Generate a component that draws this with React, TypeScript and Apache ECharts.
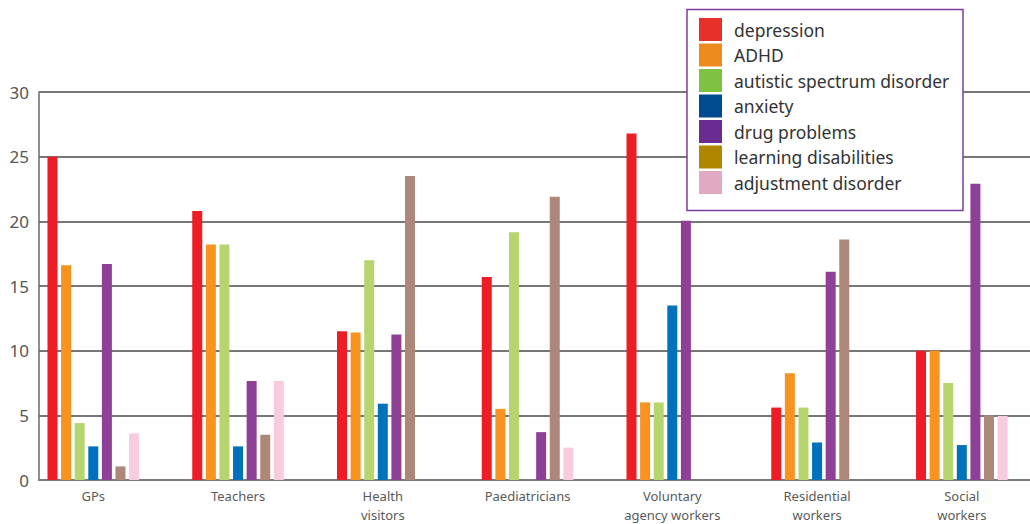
import React, { useEffect, useRef } from "react";
import * as echarts from "echarts";

const categories = [
  "GPs",
  "Teachers",
  "Health\nvisitors",
  "Paediatricians",
  "Voluntary\nagency workers",
  "Residential\nworkers",
  "Social\nworkers",
];
const seriesNames = [
  "depression",
  "ADHD",
  "autistic spectrum disorder",
  "anxiety",
  "drug problems",
  "learning disabilities",
  "adjustment disorder",
];
const depression = [25.0, 20.8, 11.5, 15.7, 26.8, 5.6, 10.0];
const adhd = [16.6, 18.2, 11.4, 5.5, 6.0, 8.25, 10.0];
const autisticSpectrum = [4.4, 18.2, 17.0, 19.15, 6.0, 5.6, 7.5];
const anxiety = [2.6, 2.6, 5.9, null, 13.5, 2.9, 2.7];
const drugProblems = [16.7, 7.65, 11.25, 3.7, 20.05, 16.1, 22.9];
const learningDisabilities = [1.05, 3.5, 23.5, 21.9, null, 18.6, 5.0];
const adjustmentDisorder = [3.6, 7.65, null, 2.5, null, null, 4.95];
const seriesValues = [
  depression,
  adhd,
  autisticSpectrum,
  anxiety,
  drugProblems,
  learningDisabilities,
  adjustmentDisorder,
];
const yMin = 0;
const yMax = 30;
const yStep = 5;

const barColors = ["#ee1c25", "#f7931e", "#b7d56f", "#0072bc", "#8e3f96", "#ab8877", "#f8cbdf"];
const legendColors = ["#e8302a", "#ee8b1f", "#7dc242", "#004a8f", "#6a2c91", "#b08500", "#e2aac2"];

const FONT = "'Noto Sans', sans-serif";

export default function App() {
  const ref = useRef<HTMLDivElement>(null);
  useEffect(() => {
    if (!ref.current) return;
    const chart = echarts.init(ref.current, null, { renderer: "svg" });
    chart.setOption({
      animation: false,
      backgroundColor: "#ffffff",
      textStyle: { fontFamily: FONT },
      grid: { left: 39, right: 0, top: 92, bottom: 41, containLabel: false },
      xAxis: {
        type: "value",
        min: -0.375,
        max: 6.471,
        interval: 0.125,
        splitLine: { show: false },
        axisTick: { show: false },
        axisLine: { show: true, onZero: false, lineStyle: { color: "#7a7a7a", width: 2 } },
        axisLabel: {
          show: true,
          showMinLabel: false,
          showMaxLabel: false,
          margin: 6,
          color: "#5a5a5a",
          fontSize: 13,
          lineHeight: 19,
          fontFamily: FONT,
          formatter: (v: number) => {
            const r = Math.round(v);
            if (Math.abs(v - r) > 1e-6 || r < 0 || r >= categories.length) return "";
            return categories[r];
          },
        },
      },
      yAxis: {
        type: "value",
        min: yMin,
        max: yMax,
        interval: yStep,
        axisLine: { show: true, onZero: false, lineStyle: { color: "#6a6a6a", width: 1.5 } },
        axisTick: { show: false },
        splitLine: { show: true, lineStyle: { color: "#4a4a4a", width: 1.5 } },
        axisLabel: { color: "#555555", fontSize: 17, margin: 10, fontFamily: FONT },
      },
      legend: {
        orient: "vertical",
        left: 699,
        top: 18,
        padding: 0,
        itemWidth: 23,
        itemHeight: 23,
        itemGap: 2.5,
        icon: "rect",
        selectedMode: false,
        z: 10,
        textStyle: { fontSize: 17.5, color: "#333333", fontFamily: FONT, padding: [0, 0, 0, 7] },
        data: seriesNames.map((n, i) => ({ name: n, itemStyle: { color: legendColors[i] } })),
      },
      graphic: [
        {
          type: "rect",
          z: 8,
          shape: { x: 687, y: 9.5, width: 276, height: 201 },
          style: { fill: "#ffffff", stroke: "#7d3c98", lineWidth: 1.5 },
        },
      ],
      series: seriesNames.map((name, si) => ({
        name,
        type: "bar",
        barWidth: 10,
        barGap: "36%",
        itemStyle: { color: barColors[si] },
        data: seriesValues[si].map((v, i) => [i, v == null ? "-" : v]),
      })),
    });
    return () => chart.dispose();
  }, []);
  return (
    <div
      ref={ref}
      style={{ position: "absolute", left: 0, top: 0, width: 1030, height: 524 }}
    />
  );
}
